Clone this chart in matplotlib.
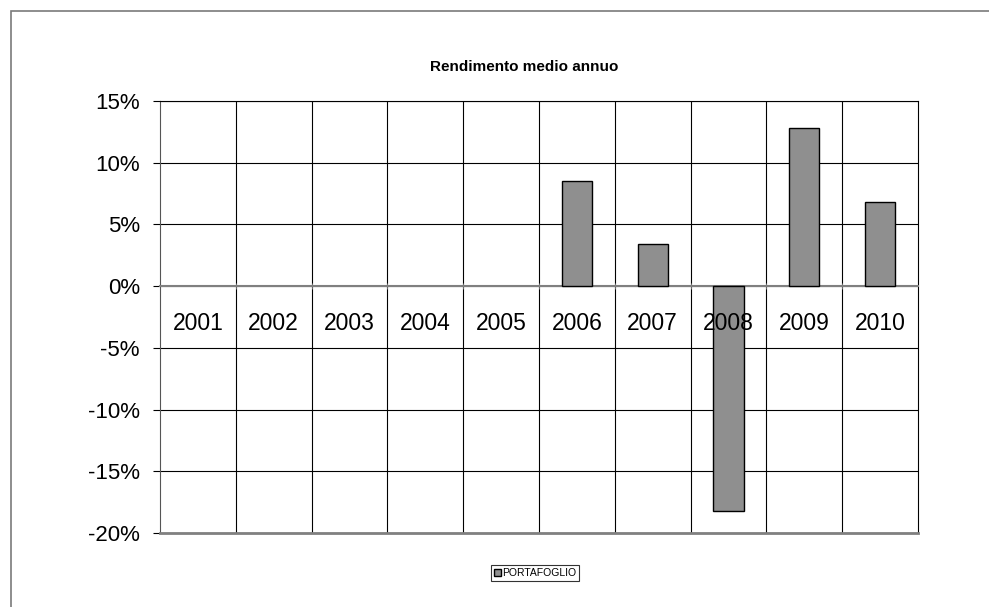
import matplotlib
matplotlib.use("Agg")
from matplotlib import pyplot as plt
from matplotlib.patches import Rectangle
from matplotlib.ticker import FixedLocator, FuncFormatter

years = ["2001", "2002", "2003", "2004", "2005", "2006", "2007", "2008", "2009", "2010"]
rendimento = [None, None, None, None, None, 8.5, 3.4, -18.2, 12.8, 6.8]
y_ticks = [-20, -15, -10, -5, 0, 5, 10, 15]

fig = plt.figure(figsize=(9.89, 6.07), dpi=100)
plt.rcParams['font.family'] = ['Liberation Sans', 'DejaVu Sans']

# outer chart border (runs off the right and bottom edges)
fig.patches.append(Rectangle((11 / 989, -0.05), 1.0, 1.05 - 11 / 607, transform=fig.transFigure,
                             fill=False, edgecolor="#7a7a7a", linewidth=1.2, zorder=0))

ax = fig.add_axes([160 / 989, 1 - 533 / 607, 758 / 989, 432 / 607])

xs = list(range(len(years)))
bx = [x for x, v in zip(xs, rendimento) if v is not None]
bv = [v for v in rendimento if v is not None]
ax.bar(bx, bv, width=0.4, color="#8f8f8f", edgecolor="black", linewidth=1.0,
       zorder=3, label="PORTAFOGLIO")

ax.set_xlim(-0.5, len(years) - 0.5)
ax.set_ylim(-20, 15)
ax.yaxis.set_major_locator(FixedLocator(y_ticks))
ax.yaxis.set_major_formatter(FuncFormatter(lambda v, p: "%d%%" % v))
ax.tick_params(axis="y", labelsize=16, length=5, width=0.8, pad=9.5, direction="out")
ax.grid(axis="y", color="black", linewidth=0.8, zorder=1)

# category labels sit just under the zero line, drawn over the bars
ax.set_xticks(xs)
ax.set_xticklabels([])
for x, lab in zip(xs, years):
    ax.annotate(lab, xy=(x, 0), xytext=(0, -27), textcoords="offset points",
                ha="center", va="center", fontsize=16.5, zorder=6)
ax.xaxis.set_minor_locator(FixedLocator([x + 0.5 for x in xs[:-1]]))
ax.grid(axis="x", which="minor", color="black", linewidth=0.8, zorder=1)
ax.spines["bottom"].set_position(("data", 0))
ax.spines["bottom"].set_color("#808080")
ax.spines["bottom"].set_linewidth(1.5)
ax.tick_params(axis="x", which="major", length=0)
ax.tick_params(axis="x", which="minor", length=4, color="#808080", direction="inout")

ax.spines["top"].set_color("black")
ax.spines["top"].set_linewidth(0.8)
ax.spines["right"].set_color("black")
ax.spines["right"].set_linewidth(0.8)
ax.spines["left"].set_color("#555555")
ax.spines["left"].set_linewidth(0.8)
ax.axhline(-20, color="#808080", linewidth=2.0, zorder=4, clip_on=False)

fig.text(524 / 989, 1 - 67 / 607, "Rendimento medio annuo", ha="center", va="center",
         fontsize=11, fontweight="bold")

leg = ax.legend(loc="center", bbox_to_anchor=(535 / 989, 1 - 573 / 607),
                bbox_transform=fig.transFigure, fontsize=7.5, frameon=True, fancybox=False,
                handlelength=0.7, handleheight=0.7, handletextpad=0.1, borderpad=0.3,
                borderaxespad=0)
leg.get_frame().set_edgecolor("black")
leg.get_frame().set_linewidth(0.8)

fig.savefig("out.png", dpi=100)
